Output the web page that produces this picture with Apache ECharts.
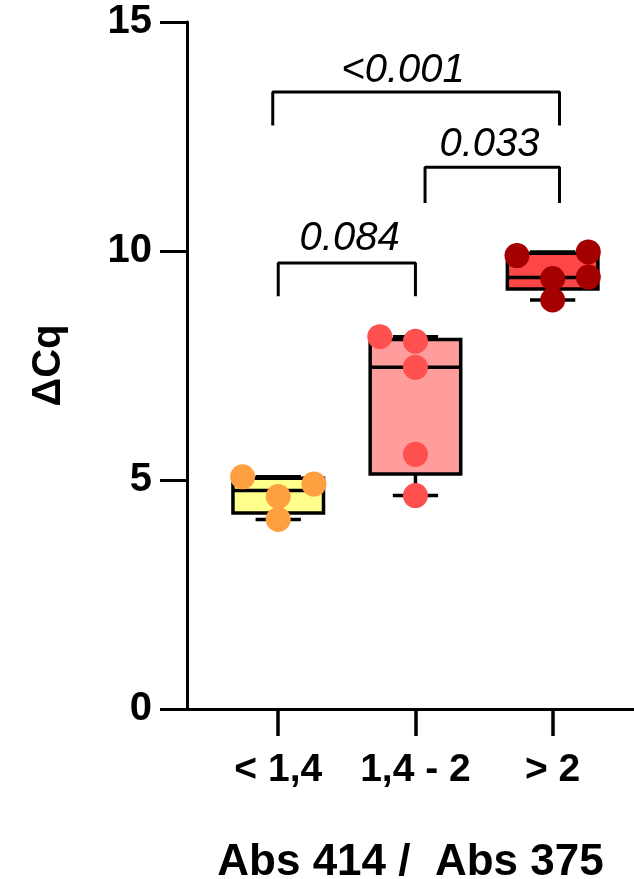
<!DOCTYPE html>
<html>
<head>
<meta charset="utf-8">
<script src="https://cdn.jsdelivr.net/npm/echarts@6/dist/echarts.min.js"></script>
<style>
html,body{margin:0;padding:0;background:#fff;}
#chart{width:634px;height:879px;}
</style>
</head>
<body>
<div id="chart"></div>
<script>
// ---- data ----
const categories = ['< 1,4', '1,4 - 2', '> 2'];
const groupPos = [1, 2, 3];
// box stats: [min, Q1, median, Q3, max]
const boxLow  = [4.14, 4.66, 8.93];
const boxQ1   = [4.28, 5.13, 9.17];
const boxMed  = [4.77, 7.46, 9.42];
const boxQ3   = [5.04, 8.07, 9.95];
const boxHigh = [5.07, 8.13, 9.98];
// individual points
const g1Values = [5.07, 4.91, 4.64, 4.14];
const g1Jitter = [-0.26, 0.26, 0, 0];
const g2Values = [8.13, 8.03, 7.46, 5.56, 4.66];
const g2Jitter = [-0.26, 0, 0, 0, 0];
const g3Values = [9.90, 9.98, 9.40, 9.43, 8.93];
const g3Jitter = [-0.26, 0.26, 0, 0.26, 0];
// significance brackets
const pLabels     = ['0.084', '0.033', '<0.001'];
const bracketFrom = [1.0, 2.07, 0.96];
const bracketTo   = [2.0, 3.05, 3.05];
const bracketTop  = [9.74, 11.83, 13.47];
const bracketFoot = [9.01, 11.05, 12.74];
const pTextX = [1.52, 2.54, 1.91];
const pTextY = [10.27, 12.32, 13.94];
// y ticks
const yMin = 0, yMax = 15, yStep = 5;

// ---- styles ----
const FONT = '"Liberation Sans", Arial, sans-serif';
const boxFills = ['#FFFF8C', '#FF9C9C', '#FF4646'];
const pointColors = ['#FFA040', '#FF5050', '#A50000'];

const boxData = groupPos.map((x, i) => [x, boxLow[i], boxQ1[i], boxMed[i], boxQ3[i], boxHigh[i]]);

function renderBox(params, api) {
  const x = api.value(0);
  const lo = api.coord([x, api.value(1)]);
  const q1 = api.coord([x, api.value(2)]);
  const md = api.coord([x, api.value(3)]);
  const q3 = api.coord([x, api.value(4)]);
  const hi = api.coord([x, api.value(5)]);
  const bw = api.size([0.66, 0])[0];
  const cw = api.size([0.33, 0])[0];
  const cx = lo[0];
  const ls = {stroke: '#000', lineWidth: 3.5};
  return {
    type: 'group',
    children: [
      {type: 'line', shape: {x1: cx, y1: q1[1], x2: cx, y2: lo[1]}, style: ls},
      {type: 'line', shape: {x1: cx, y1: q3[1], x2: cx, y2: hi[1]}, style: ls},
      {type: 'line', shape: {x1: cx - cw / 2, y1: lo[1], x2: cx + cw / 2, y2: lo[1]}, style: ls},
      {type: 'line', shape: {x1: cx - cw / 2, y1: hi[1], x2: cx + cw / 2, y2: hi[1]}, style: ls},
      {type: 'rect', shape: {x: cx - bw / 2, y: q3[1], width: bw, height: q1[1] - q3[1]},
        style: {fill: boxFills[params.dataIndex], stroke: '#000', lineWidth: 3.5}},
      {type: 'line', shape: {x1: cx - bw / 2, y1: md[1], x2: cx + bw / 2, y2: md[1]}, style: ls}
    ]
  };
}

const pointSets = [
  [g1Values, g1Jitter],
  [g2Values, g2Jitter],
  [g3Values, g3Jitter]
];
const pointSeries = pointSets.map((ps, gi) => ({
  type: 'scatter',
  symbolSize: 25,
  z: 5,
  itemStyle: {color: pointColors[gi], opacity: 1},
  data: ps[0].map((v, k) => [groupPos[gi] + ps[1][k], v]),
  silent: true
}));

const bracketSeries = pLabels.map((p, i) => ({
  type: 'line',
  symbol: 'none',
  z: 3,
  lineStyle: {color: '#000', width: 3},
  data: [
    [bracketFrom[i], bracketFoot[i]],
    [bracketFrom[i], bracketTop[i]],
    [bracketTo[i], bracketTop[i]],
    [bracketTo[i], bracketFoot[i]]
  ]
}));

const labelSeries = {
  type: 'scatter',
  symbolSize: 0,
  itemStyle: {color: 'rgba(0,0,0,0)'},
  z: 6,
  silent: true,
  data: pLabels.map((p, i) => ({value: [pTextX[i], pTextY[i]], name: p})),
  label: {
    show: true,
    position: 'inside',
    formatter: (d) => d.name,
    fontFamily: FONT,
    fontStyle: 'italic',
    fontWeight: 'normal',
    fontSize: 40,
    color: '#000000',
    textBorderWidth: 0,
    opacity: 1
  }
};

const chart = echarts.init(document.getElementById('chart'), null, {renderer: 'canvas'});
chart.setOption({
  backgroundColor: '#fff',
  animation: false,
  grid: {left: 187, right: 0, top: 22, bottom: 170, containLabel: false, outerBoundsMode: 'none'},
  xAxis: {
    type: 'value',
    min: 0.335,
    max: 3.593,
    splitLine: {show: false},
    axisLine: {show: true, onZero: false, lineStyle: {color: '#000', width: 3}},
    axisTick: {show: true, customValues: groupPos, length: 27, inside: false, lineStyle: {color: '#000', width: 3.5}},
    axisLabel: {
      show: true,
      customValues: groupPos,
      formatter: (v) => categories[groupPos.indexOf(Math.round(v))] || '',
      fontFamily: FONT, fontWeight: 'bold', fontSize: 39, color: '#000', margin: 42
    },
    name: 'Abs 414 /  Abs 375',
    nameLocation: 'middle',
    nameGap: 132,
    nameTextStyle: {fontFamily: FONT, fontWeight: 'bold', fontSize: 44, color: '#000'}
  },
  yAxis: {
    type: 'value',
    min: yMin,
    max: yMax,
    interval: yStep,
    splitLine: {show: false},
    axisLine: {show: true, onZero: false, lineStyle: {color: '#000', width: 3}},
    axisTick: {show: true, length: 27, lineStyle: {color: '#000', width: 3}},
    axisLabel: {fontFamily: FONT, fontWeight: 'bold', fontSize: 40, color: '#000', margin: 35},
    name: 'ΔCq',
    nameLocation: 'middle',
    nameGap: 118,
    nameRotate: 90,
    nameTextStyle: {fontFamily: FONT, fontWeight: 'bold', fontSize: 40, color: '#000'}
  },
  series: [
    {type: 'custom', renderItem: renderBox, data: boxData, z: 2, silent: true}
  ].concat(bracketSeries, pointSeries, [labelSeries])
});
</script>
</body>
</html>
